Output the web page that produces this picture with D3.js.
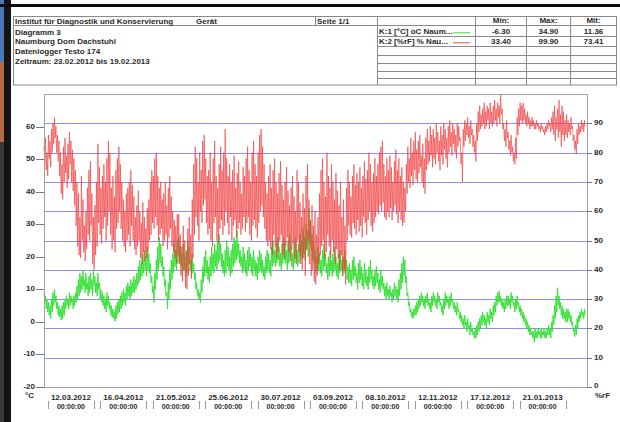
<!DOCTYPE html>
<html>
<head>
<meta charset="utf-8">
<script src="https://cdn.jsdelivr.net/npm/d3@7"></script>
<style>
html, body { margin: 0; padding: 0; background: #fff; overflow: hidden; }
svg { display: block; }
text { font-family: "Liberation Sans", Arial, sans-serif; font-weight: bold; fill: #2a2a2a; font-size: 8px; }
</style>
</head>
<body>
<svg width="620" height="422"></svg>
<script>
const svg = d3.select("svg");

// Messzeitraum, Werte alle 12 Stunden
const startZeit = new Date(2012, 1, 23, 0, 0);
const endZeit = new Date(2013, 1, 19, 0, 0);
const schrittStunden = 12;

// K:2 relative Feuchte [%rF]
const feuchte = [
  82,76,85,74,80,72,86,78,84,75,88,80,90,83,92,85,89,80,86,77,
  84,72,80,66,76,64,82,70,85,73,79,68,83,71,87,76,84,70,81,67,
  78,62,74,55,70,48,66,45,58,44,72,50,64,46,55,43,60,47,68,52,
  74,50,77,55,66,42,58,40,62,45,70,48,83,56,75,52,68,49,72,54,
  76,58,70,50,78,55,84,60,80,52,68,47,72,50,65,46,74,54,78,56,
  82,60,76,54,70,50,64,48,60,46,66,50,68,52,70,48,74,55,69,50,
  65,47,58,45,62,48,67,50,60,44,56,42,63,46,58,43,54,44,61,46,
  64,50,70,52,74,56,72,54,78,58,80,55,72,50,68,52,70,54,64,48,
  66,50,70,52,62,47,68,51,72,54,65,48,60,46,57,44,55,42,59,45,
  59,42,52,38,48,36,55,40,50,34,46,33.4,54,38,58,42,52,37,64,44,
  76,52,82,58,78,55,70,50,80,60,74,56,84,62,86,64,78,56,72,52,
  74,54,80,50,70,48,78,56,84,58,72,50,68,49,76,54,82,57,74,52,
  80,55,88,60,78,56,72,52,76,58,70,50,74,55,79,57,68,51,73,54,
  77,56,70,52,66,54,75,58,72,53,78,56,82,58,74,52,70,50,80,55,
  84,57,76,54,72,51,80,56,86,60,88,62,82,58,76,54,70,50,66,48,
  72,50,76,47,68,45,74,52,78,48,70,44,66,46,73,50,77,52,69,45,
  64,44,70,48,75,51,67,46,62,43,68,47,72,49,65,44,60,42,74,50,
  70,46,63,42,58,40,66,44,61,38,72,47,76,50,64,42,57,38,62,40,
  55,36,60,35,52,38,58,42,66,45,74,48,78,50,70,44,65,46,80,52,
  72,48,68,44,76,50,70,46,64,42,73,47,67,44,62,40,70,45,58,38,
  64,40,55,35,68,50,74,55,70,52,65,51,72,56,76,54,69,52,73,57,
  70,53,75,55,68,51,72,58,77,56,71,52,74,57,80,60,76,55,70,53,
  73,56,78,58,72,60,76,59,80,62,82,60,84,63,76,58,72,57,78,60,
  74,58,79,61,75,57,70,60,77,62,81,59,74,56,78,60,72,57,75,55,
  70,56,68,60,76,66,82,70,78,68,85,72,80,69,84,74,87,71,81,70,
  84,73,86,75,79,70,83,68,78,66,85,74,88,76,84,77,89,79,86,75,
  88,78,85,76,90,80,87,77,84,74,89,79,86,76,90,81,88,78,85,75,
  89,80,91,82,87,79,90,83,88,80,86,78,90,82,89,84,85,76,80,70,
  88,82,91,84,90,86,92,85,89,83,91,86,88,82,86,80,84,77,90,84,
  94,87,96,88,93,89,95,90,97,88,94,89,96,91,95,88,97,90,94,89,
  96,90,98,91,95,89,97,92,96,90,99.9,93,95,88,90,84,88,82,91,85,
  87,81,84,79,86,80,82,77,80,76,85,78,92,86,95,89,97,91,96,90,
  97,91,95,90,93,89,94,90,92,88,91,89,92,89,91,88,90,88,91,89,
  90,88,89,87,90,88,89,87,88,86,89,87,90,88,91,89,90,87,92,88,
  94,86,96,84,92,88,95,85,98,87,93,82,96,86,94,84,91,86,93,85,
  91,87,90,86,92,88,89,84,86,81,84,79.5,88,83,90,86,89,87,91,88,90,87,91,89
];

// K:1 Temperatur [°C]
const temperatur = [
  9,6,8,4,7,3,6,2,5,1,7,3,9,5,10,6,8,4,6,2,
  5,1.5,4,0.5,5,1,6,2,7,4,8,5,7,4,9,5,8,6,7,4,
  8,5,9,6,11,7,13,8,15,9,14,10,16,11,13,9,15,10,12,8,
  14,9,15,10,13,8,16,11,14,9,12,8,15,10,12,7,10,6,9,5,
  8,4,7,3,9,5,8,4,6,2,5,1.5,4,1,3,0.2,5,1,6,2.5,
  7,3,8,4,9,5,10,6,9,5,11,7,12,8,11,7,13,8,12,9,
  14,9,13,10,15,11,17,12,19,13,18,14,21,15,22,16,20,14,23,16,
  21,15,18,12,14,9,11,6,15,10,19,13,23,16,26,18,24,17,20,14,
  17,11,13,8,9,4,12,7,16,10,19,13,21,15,24,17,22,16,25,18,
  26,19,23,17,21,15,24,16,20,14,22,15,25,18,23,16,19,14,21,15,
  18,13,15,10,12,8,10,7,9,6,13,9,17,12,20,14,22,15,19,13,
  17,12,20,14,23,16,21,15,24,17,22,16,25,18,27,19,24,17,21,15,
  19,14,22,15,25,17,23,16,20,14,22,15,24,17,26,18,25,19,28,20,
  24,18,22,17,20,15,23,16,21,15,19,14,22,16,23,17,21,15,20,14,
  22,16,19,14,18,13,20,15,22,16,21,15,19,14,17,13,20,15,22,16,
  21,15,19,14,23,17,25,18,22,17,24,18,26,19,23,17,21,16,24,18,
  26,19,24,18,22,16,25,18,27,20,23,17,21,16,24,18,26,19,22,17,
  24,18,27,20,25,19,29,21,26,19,30,22,28,20,34.9,24,31,22,27,19,
  25,18,22,16,20,15,23,16,21,15,19,14,22,16,24,17,21,15,18,13,
  20,14,22,16,19,14,21,15,23,16,20,14,18,13,21,15,22,16,19,14,
  20,15,22,16,19,13,17,12,18,12,16,11,19,13,20,14,17,12,15,10,
  18,12,19,13,17,11,15,10,18,12,16,11,14,10,17,12,19,13,16,11,
  14,10,16,11,17,12,15,10,13,9,16,11,14,10,12,8,11,7,12,8,
  10,7,11,8,9,6,10,7,12,8,11,7,10,6,13,8,15,10,18,12,
  20,14,19,12,14,8,9,5,6,3,4,1.5,3,1,4,2,5,2,6,3,
  7,4,8,5,9,6,8,5,7,4,8,6,9,5,7,4,6,3,8,5,
  9,6,8,5,7,4,9,6,8,5,6,3,5,2,7,4,9,5,8,6,
  7,4,8,5,9,6,7,4,6,3,5,2,6,3,4,1,3,0,2,-1,
  1,-2,2,-1,0,-3,1,-2,-1,-4,0,-3,-2,-4,-3,-5,-2,-5,-1,-4,
  0,-3,1,-2,2,-1,3,0,2,-1,1,-2,3,0,2,-1,4,1,3,0,
  5,2,6,3,8,5,9,6,9.5,6,8,5,7,4,6,3,7,4,8,5,
  8,5,7,4,9,6,8,5,6,3,7,4,8,5,6,3,5,2,4,1,
  3,0,2,-1,1,-2,0,-3,-1,-4,-2,-4,-3,-5,-3,-6.3,-2,-5,-3,-5,
  -2,-4,-3,-5,-2,-5,-3,-4,-2,-5,-3,-5,-2,-4,-1,-4,-2,-5,0,-3,
  2,-1,5,1,8,3,10.5,5,8,4,6,2,5,1,4,1,3,0,4,0,
  4,1,3,0,2,-1,0,-3,-2,-4.5,-1,-4,1,-2,2,0,3,1,4,2,3,1,4,2
];

// Achsen
const datumTicks = ["12.03.2012", "16.04.2012", "21.05.2012", "25.06.2012", "30.07.2012",
                    "03.09.2012", "08.10.2012", "12.11.2012", "17.12.2012", "21.01.2013"];
const tempTicks = [-20, -10, 0, 10, 20, 30, 40, 50, 60];
const feuchteTicks = [0, 10, 20, 30, 40, 50, 60, 70, 80, 90];

// Kopf und Tabelle
const kopfTitel = "Institut für Diagnostik und Konservierung";
const kopfZeilen = ["Diagramm 3", "Naumburg Dom Dachstuhl", "Datenlogger Testo 174",
                    "Zeitraum: 23.02.2012 bis 19.02.2013"];
const kanalNamen = ["K:1 [°C] oC Naum...", "K:2 [%rF] % Nau..."];
const kanalMin = ["-6.30", "33.40"];
const kanalMax = ["34.90", "99.90"];
const kanalMit = ["11.36", "73.41"];
const kanalFarben = ["#35e035", "#f04848"];

// Rand vom Foto (links dunkel, oben schwarzer Balken)
svg.append("rect").attr("x", 0).attr("y", 0).attr("width", 11).attr("height", 422).attr("fill", "#141414");
svg.append("rect").attr("x", 0).attr("y", 0).attr("width", 4).attr("height", 62).attr("fill", "#4c78b8");
svg.append("rect").attr("x", 0).attr("y", 62).attr("width", 4).attr("height", 80).attr("fill", "#b56a45");
svg.append("rect").attr("x", 0).attr("y", 142).attr("width", 4).attr("height", 280).attr("fill", "#3a3a3a");
svg.append("rect").attr("x", 0).attr("y", 4).attr("width", 620).attr("height", 3).attr("fill", "#0a0a0a");

// Kopfbereich
const linie = (x1, y1, x2, y2, farbe) => svg.append("line")
    .attr("x1", x1).attr("y1", y1).attr("x2", x2).attr("y2", y2)
    .attr("stroke", farbe || "#8a8a8a").attr("stroke-width", 1);

svg.append("rect").attr("x", 13.5).attr("y", 16.5).attr("width", 603).attr("height", 68.5)
    .attr("fill", "none").attr("stroke", "#8a8a8a");
linie(13.5, 25.5, 616.5, 25.5);
linie(315.5, 16.5, 315.5, 25.5);
[377.5, 475.5, 526.5, 570.5].forEach(xx => linie(xx, 16.5, xx, 85));
[36.5, 46.5, 55.5, 63.5, 71.5, 78.5].forEach(yy => linie(377.5, yy, 616.5, yy));

svg.append("text").attr("x", 15).attr("y", 23.6).text(kopfTitel);
svg.append("text").attr("x", 196).attr("y", 23.6).text("Gerät");
svg.append("text").attr("x", 317).attr("y", 23.6).text("Seite 1/1");
kopfZeilen.forEach((t, i) => svg.append("text").attr("x", 15).attr("y", 34.5 + i * 9.8).text(t));

const spalten = [501, 548.5, 593.5];
["Min:", "Max:", "Mit:"].forEach((t, i) =>
    svg.append("text").attr("x", spalten[i]).attr("y", 23.2).attr("text-anchor", "middle").text(t));
kanalNamen.forEach((name, i) => {
    const yy = 34.3 + i * 10;
    svg.append("text").attr("x", 379).attr("y", yy).text(name);
    linie(453, yy - 1.5, 470, yy - 1.5, kanalFarben[i]);
    svg.append("text").attr("x", spalten[0]).attr("y", yy).attr("text-anchor", "middle").text(kanalMin[i]);
    svg.append("text").attr("x", spalten[1]).attr("y", yy).attr("text-anchor", "middle").text(kanalMax[i]);
    svg.append("text").attr("x", spalten[2]).attr("y", yy).attr("text-anchor", "middle").text(kanalMit[i]);
});

// Skalen
const links = 44, rechts = 587, oben = 94, unten = 387;
const x = d3.scaleTime().domain([startZeit, endZeit]).range([44, 586]);
const yT = d3.scaleLinear().domain([-20, 70]).range([unten, oben]);
const yF = d3.scaleLinear().domain([0, 100]).range([unten, oben]);
const zeit = i => d3.timeHour.offset(startZeit, i * schrittStunden);

// Gitternetz (an der %rF-Achse)
feuchteTicks.forEach(v => {
    if (v === 0) return;
    linie(links, Math.round(yF(v)) + 0.5, rechts, Math.round(yF(v)) + 0.5, "#8f8ff0");
});
linie(links, unten + 0.5, rechts, unten + 0.5, "#9a9af0");

// Kurven
const kurve = werte => d3.line()
    .x((d, i) => x(zeit(i)))
    .y(d => werte(d));

svg.append("path").datum(temperatur)
    .attr("d", kurve(yT))
    .attr("fill", "none").attr("stroke", "#2fe02f").attr("stroke-width", 0.9)
    .attr("stroke-linejoin", "round");

svg.append("path").datum(feuchte)
    .attr("d", kurve(yF))
    .attr("fill", "none").attr("stroke", "#f03a3a").attr("stroke-width", 0.85)
    .attr("stroke-opacity", 0.75).attr("stroke-linejoin", "round");

// Rahmen
svg.append("rect").attr("x", links + 0.5).attr("y", oben + 0.5)
    .attr("width", rechts - links).attr("height", unten - oben)
    .attr("fill", "none").attr("stroke", "#a0a0a0");

// linke Achse °C
tempTicks.forEach(v => {
    const yy = Math.round(yT(v)) + 0.5;
    linie(36, yy, links, yy, "#777");
    svg.append("text").attr("x", 35).attr("y", yy + 1).attr("text-anchor", "end").text(v);
});
svg.append("text").attr("x", 25).attr("y", 398).text("°C");

// rechte Achse %rF
feuchteTicks.forEach(v => {
    const yy = Math.round(yF(v)) + 0.5;
    linie(rechts, yy, 592, yy, "#777");
    svg.append("text").attr("x", 594).attr("y", yy + (v === 0 ? 0 : 1)).text(v);
});
svg.append("text").attr("x", 595).attr("y", 398).text("%rF");

// Zeitachse
const parseDatum = d3.timeParse("%d.%m.%Y");
datumTicks.forEach(t => {
    const xx = x(parseDatum(t));
    svg.append("text").attr("x", xx).attr("y", 400).attr("text-anchor", "middle").text(t);
    svg.append("text").attr("x", xx).attr("y", 408.5).attr("text-anchor", "middle")
        .style("font-size", "7px").text("00:00:00");
    [-23, 23].forEach(o => linie(Math.round(xx + o) + 0.5, 401, Math.round(xx + o) + 0.5, 409, "#999"));
});
</script>
</body>
</html>
